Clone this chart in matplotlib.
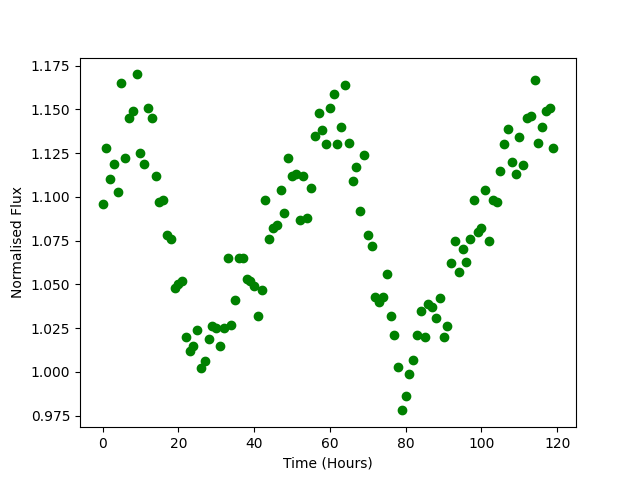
import numpy as np
import matplotlib
matplotlib.use("Agg")
import matplotlib.pyplot as plt

## tempo em horas e fluxo normalizado
horas = list(range(120))
fluxo = [
    1.096, 1.128, 1.110, 1.119, 1.103, 1.165, 1.122, 1.145, 1.149, 1.170,
    1.125, 1.119, 1.151, 1.145, 1.112, 1.097, 1.098, 1.078, 1.076, 1.048,
    1.050, 1.052, 1.020, 1.012, 1.015, 1.024, 1.002, 1.006, 1.019, 1.026,
    1.025, 1.015, 1.025, 1.065, 1.027, 1.041, 1.065, 1.065, 1.053, 1.052,
    1.049, 1.032, 1.047, 1.098, 1.076, 1.082, 1.084, 1.104, 1.091, 1.122,
    1.112, 1.113, 1.087, 1.112, 1.088, 1.105, 1.135, 1.148, 1.138, 1.130,
    1.151, 1.159, 1.130, 1.140, 1.164, 1.131, 1.109, 1.117, 1.092, 1.124,
    1.078, 1.072, 1.043, 1.040, 1.043, 1.056, 1.032, 1.021, 1.003, 0.978,
    0.986, 0.999, 1.007, 1.021, 1.035, 1.020, 1.039, 1.037, 1.031, 1.042,
    1.020, 1.026, 1.062, 1.075, 1.057, 1.070, 1.063, 1.076, 1.098, 1.080,
    1.082, 1.104, 1.075, 1.098, 1.097, 1.115, 1.130, 1.139, 1.120, 1.113,
    1.134, 1.118, 1.145, 1.146, 1.167, 1.131, 1.140, 1.149, 1.151, 1.128,
]

plt.figure(figsize=(6.4, 4.8), dpi=100)
plt.scatter(horas, fluxo, color="green")
plt.xlabel("Time (Hours)")
plt.ylabel("Normalised Flux")
plt.savefig("out.png")
